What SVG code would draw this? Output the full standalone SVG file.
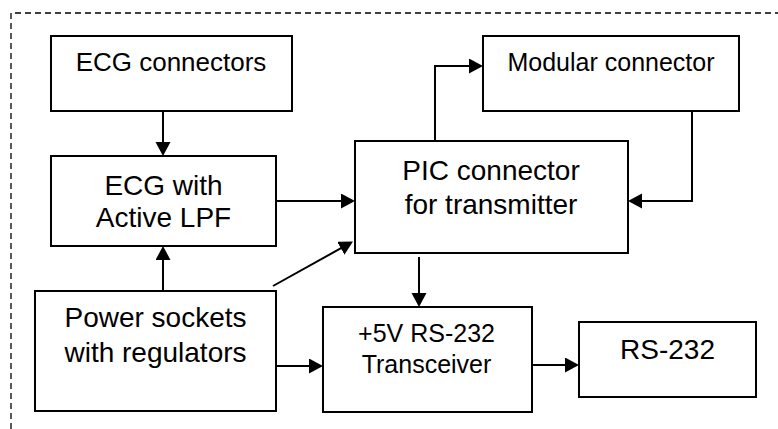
<svg xmlns="http://www.w3.org/2000/svg" width="778" height="429" viewBox="0 0 778 429">
<style>
.box{fill:#fff;stroke:#000;stroke-width:2}
.t{font-family:"Liberation Sans",Arial,Helvetica,sans-serif;fill:#000;text-anchor:middle}
.c{fill:none;stroke:#000;stroke-width:2}
.frame{fill:none;stroke:#000;stroke-width:1.3;stroke-dasharray:6 4}
</style>
<defs>
<marker id="ah" markerUnits="userSpaceOnUse" markerWidth="15" markerHeight="16" refX="10" refY="7.5" orient="auto">
<path d="M0,0 L14,7.5 L0,15 z" fill="#000"/>
</marker>
</defs>
<rect width="778" height="429" fill="#fff"/>
<path class="frame" d="M11,429 V13 H778"/>
<g id="n-ecgconn">
<rect class="box" x="51" y="36" width="241" height="75"/>
<text class="t" x="171" y="70.5" font-size="26">ECG connectors</text>
</g>
<g id="n-modular">
<rect class="box" x="483" y="36" width="256" height="75"/>
<text class="t" x="611" y="70.5" font-size="25">Modular connector</text>
</g>
<g id="n-ecglpf">
<rect class="box" x="51" y="156" width="225" height="90"/>
<text class="t" x="163.5" y="194.5" font-size="28">ECG with</text>
<text class="t" x="163.5" y="226.5" font-size="28">Active LPF</text>
</g>
<g id="n-pic">
<rect class="box" x="355" y="141" width="273" height="112"/>
<text class="t" x="491" y="179.5" font-size="28">PIC connector</text>
<text class="t" x="491" y="213.5" font-size="28">for transmitter</text>
</g>
<g id="n-power">
<rect class="box" x="35" y="291" width="241" height="120"/>
<text class="t" x="155.5" y="326.5" font-size="28">Power sockets</text>
<text class="t" x="155.5" y="361.5" font-size="28">with regulators</text>
</g>
<g id="n-xcvr">
<rect class="box" x="323" y="307" width="209" height="105"/>
<text class="t" x="426.5" y="341.5" font-size="25">+5V RS-232</text>
<text class="t" x="426.5" y="372.5" font-size="25">Transceiver</text>
</g>
<g id="n-rs232">
<rect class="box" x="579" y="322" width="177" height="75"/>
<text class="t" x="667.5" y="359" font-size="28">RS-232</text>
</g>
<g id="connectors">
<path class="c" marker-end="url(#ah)" d="M163,111 V152"/>
<path class="c" marker-end="url(#ah)" d="M276,201 H351"/>
<path class="c" marker-end="url(#ah)" d="M163,291 V250"/>
<path class="c" marker-end="url(#ah)" d="M273,286 L349.5,243.45"/>
<path class="c" marker-end="url(#ah)" d="M276,366 H319"/>
<path class="c" marker-end="url(#ah)" d="M419,257 V303"/>
<path class="c" marker-end="url(#ah)" d="M532,365 H575"/>
<path class="c" marker-end="url(#ah)" d="M435,141 V66 H479"/>
<path class="c" marker-end="url(#ah)" d="M692,111 V201 H632"/>
</g>
</svg>
